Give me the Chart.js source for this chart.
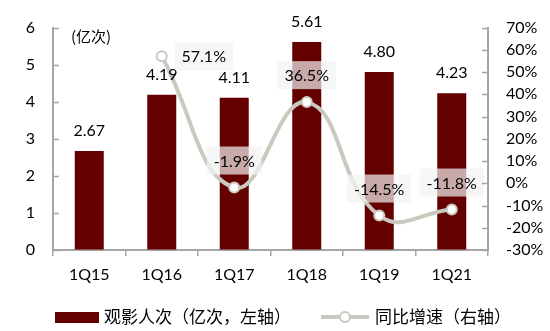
<!DOCTYPE html>
<html>
<head>
<meta charset="utf-8">
<script src="https://cdn.jsdelivr.net/npm/chart.js@4/dist/chart.umd.min.js"></script>
<style>
  html, body { margin: 0; padding: 0; background: #fff; }
  #wrap { width: 550px; height: 331px; }
</style>
</head>
<body>
<div id="wrap"><canvas id="viewChart" width="550" height="331"></canvas></div>
<script>
const quarters = ['1Q15', '1Q16', '1Q17', '1Q18', '1Q19', '1Q21'];
const viewers = [2.67, 4.19, 4.11, 5.61, 4.80, 4.23];       // 亿次
const growth = [null, 57.1, -1.9, 36.5, -14.5, -11.8];      // %
const growthLabelSide = ['top', 'right', 'top', 'top', 'top', 'top'];

const BAR = '#640000';
const LINE = '#C9C9C0';
const AXIS = '#A6A6A6';
const LATIN = 'Lato, "Noto Sans", sans-serif';
const CJK = '"Noto Sans CJK SC", sans-serif';

// inward tick marks on both value axes, plus the unit note
const axisExtras = {
  id: 'axisExtras',
  afterDraw(chart) {
    const ctx = chart.ctx;
    ctx.save();
    ctx.strokeStyle = AXIS;
    ctx.lineWidth = 1.5;
    const left = chart.scales.y, right = chart.scales.y1;
    left.ticks.forEach((t, i) => {
      const py = Math.round(left.getPixelForTick(i)) + 0.5;
      ctx.beginPath(); ctx.moveTo(left.right, py); ctx.lineTo(left.right + 6, py); ctx.stroke();
    });
    right.ticks.forEach((t, i) => {
      const py = Math.round(right.getPixelForTick(i)) + 0.5;
      ctx.beginPath(); ctx.moveTo(right.left, py); ctx.lineTo(right.left - 6, py); ctx.stroke();
    });
    ctx.fillStyle = '#000';
    ctx.font = '15px ' + CJK;
    ctx.textBaseline = 'middle';
    ctx.fillText('(亿次)', chart.chartArea.left + 18, chart.chartArea.top + 9);
    ctx.restore();
  }
};

// value labels: plain above bars, boxed for the growth line
const valueLabels = {
  id: 'valueLabels',
  afterDatasetsDraw(chart) {
    const ctx = chart.ctx;
    ctx.save();
    ctx.textAlign = 'center';
    ctx.textBaseline = 'middle';
    ctx.font = '16px ' + LATIN;
    ctx.fillStyle = '#000';
    chart.getDatasetMeta(0).data.forEach((bar, i) => {
      ctx.fillText(viewers[i].toFixed(2), bar.x, bar.y - 20);
    });
    chart.getDatasetMeta(1).data.forEach((pt, i) => {
      if (growth[i] === null) return;
      const txt = growth[i].toFixed(1) + '%';
      const w = ctx.measureText(txt).width + 14, h = 28;
      let cx = pt.x, cy = pt.y - 27;
      if (growthLabelSide[i] === 'right') { cx = pt.x + 42; cy = pt.y; }
      ctx.fillStyle = 'rgba(242,242,242,0.7)';
      ctx.fillRect(cx - w / 2, cy - h / 2, w, h);
      ctx.fillStyle = '#000';
      ctx.fillText(txt, cx, cy + 1);
    });
    ctx.restore();
  }
};

// legend row under the axis
const legendRow = {
  id: 'legendRow',
  afterDraw(chart) {
    const ctx = chart.ctx;
    const y = 317;
    let x = chart.chartArea.left + 2;
    ctx.save();
    ctx.font = '17px ' + CJK;
    ctx.textBaseline = 'middle';
    ctx.fillStyle = BAR;
    ctx.fillRect(x, y - 5, 44, 11);
    x += 49;
    const t1 = chart.data.datasets[0].label;
    ctx.fillStyle = '#000';
    ctx.fillText(t1, x, y);
    x += ctx.measureText(t1).width + 30;
    ctx.strokeStyle = LINE;
    ctx.lineWidth = 4;
    ctx.beginPath(); ctx.moveTo(x, y); ctx.lineTo(x + 48, y); ctx.stroke();
    ctx.beginPath(); ctx.arc(x + 24, y, 5, 0, Math.PI * 2);
    ctx.fillStyle = '#fff'; ctx.fill();
    ctx.lineWidth = 2; ctx.stroke();
    ctx.fillStyle = '#000';
    ctx.fillText(chart.data.datasets[1].label, x + 54, y);
    ctx.restore();
  }
};

new Chart(document.getElementById('viewChart'), {
  data: {
    labels: quarters,
    datasets: [
      {
        type: 'bar',
        label: '观影人次（亿次，左轴）',
        data: viewers,
        backgroundColor: BAR,
        yAxisID: 'y',
        order: 2,
        barPercentage: 0.4,
        categoryPercentage: 1
      },
      {
        type: 'line',
        label: '同比增速（右轴）',
        data: growth,
        yAxisID: 'y1',
        order: 1,
        borderColor: LINE,
        borderWidth: 4,
        tension: 0.45,
        pointRadius: 5,
        pointBorderWidth: 2,
        pointBackgroundColor: '#fff',
        pointBorderColor: LINE
      }
    ]
  },
  options: {
    responsive: false,
    animation: false,
    layout: { padding: { top: 24, bottom: 35, left: 0, right: 0 } },
    plugins: { legend: { display: false }, tooltip: { enabled: false } },
    scales: {
      x: {
        offset: true,
        grid: { drawOnChartArea: false, drawTicks: true, tickLength: 6, color: AXIS, lineWidth: 1.5 },
        border: { color: AXIS, width: 2 },
        ticks: { color: '#000', font: { family: LATIN, size: 16 }, padding: 9 },
        afterFit(s) { s.height = 46; }
      },
      y: {
        position: 'left',
        min: 0, max: 6,
        grid: { drawOnChartArea: false, drawTicks: false },
        border: { color: AXIS, width: 2 },
        ticks: { stepSize: 1, color: '#000', font: { family: LATIN, size: 16 }, padding: 18 },
        afterFit(s) { s.width = 53; }
      },
      y1: {
        position: 'right',
        min: -30, max: 70,
        grid: { drawOnChartArea: false, drawTicks: false },
        border: { color: AXIS, width: 2 },
        ticks: { stepSize: 10, color: '#000', font: { family: LATIN, size: 16 }, padding: 18,
                 callback: v => v + '%' },
        afterFit(s) { s.width = 62; }
      }
    }
  },
  plugins: [axisExtras, valueLabels, legendRow]
});
</script>
</body>
</html>
